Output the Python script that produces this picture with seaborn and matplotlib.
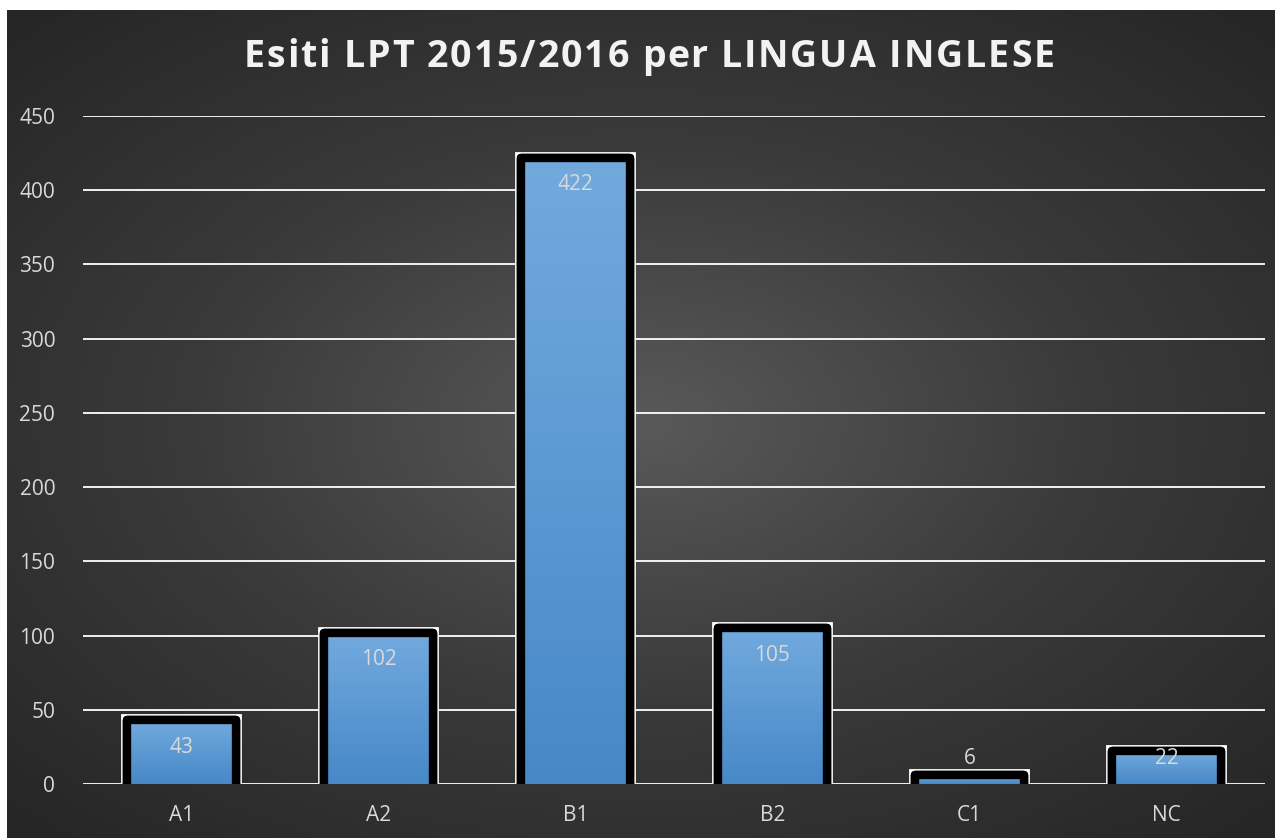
import matplotlib
matplotlib.use("Agg")
import matplotlib.pyplot as plt
import matplotlib.patheffects as pe
from matplotlib.font_manager import FontProperties
import numpy as np
import pandas as pd
import seaborn as sns

levels = ["A1", "A2", "B1", "B2", "C1", "NC"]
counts = [43, 102, 422, 105, 6, 22]
title = "Esiti LPT 2015/2016 per LINGUA INGLESE"

df = pd.DataFrame({"livello": levels, "esiti": counts})

sns.set_theme(style="white")
plt.rcParams["font.family"] = ["Open Sans", "DejaVu Sans"]

fig = plt.figure(figsize=(12.8, 8.38), dpi=100)
fig.patch.set_facecolor("white")

# radial gradient background
bg = fig.add_axes([7 / 1280, 0, 1268 / 1280, 828 / 838])
yy, xx = np.mgrid[-1:1:400j, -1:1:600j]
r = np.sqrt((xx * 0.95) ** 2 + (yy * 1.0) ** 2)
r = np.clip(r / 1.35, 0, 1)
bg.imshow(r, cmap=sns.blend_palette(["#595959", "#3a3a3a", "#262626"], as_cmap=True),
          aspect="auto", extent=[0, 1, 0, 1], interpolation="bicubic")
bg.set_axis_off()

ax = fig.add_axes([83 / 1280, 54 / 838, 1182 / 1280, 668 / 838])
ax.set_facecolor("none")

# base bars: white outer frame + black rounded border + blue fill
sns.barplot(data=df, x="livello", y="esiti", ax=ax, color="#5b9bd5",
            width=0.55, saturation=1, edgecolor="black", linewidth=6, zorder=3)
base = list(ax.patches)
# second pass: only the black border, drawn above the gradient fill
sns.barplot(data=df, x="livello", y="esiti", ax=ax, color="#5b9bd5",
            width=0.55, saturation=1, edgecolor="black", linewidth=6, zorder=5)
top = [p for p in ax.patches if p not in base]

blue = sns.blend_palette(["#4788c8", "#72aade"], as_cmap=True)
grad = np.linspace(0, 1, 256).reshape(-1, 1)
for b, t in zip(base, top):
    h = b.get_height()
    # push the bottom edge below the axis so no border shows at 0
    for p in (b, t):
        p.set_y(-15)
        p.set_height(h + 15)
        p.set_joinstyle("round")
    b.set_path_effects([pe.Stroke(linewidth=8.5, foreground="white", joinstyle="miter"),
                        pe.Stroke(linewidth=6, foreground="black", joinstyle="round"),
                        pe.Normal()])
    t.set_facecolor("none")
    x0, w = b.get_x(), b.get_width()
    im = ax.imshow(grad, cmap=blue, origin="lower", aspect="auto",
                   extent=[x0, x0 + w, 0, h], zorder=4, interpolation="bilinear")
    im.set_clip_path(b)

for i, v in enumerate(counts):
    ax.text(i, max(v - 18.2, 17.5), str(v), ha="center", va="center",
            color="#d9d9d9", fontsize=15, zorder=6)

ax.set_ylim(0, 450)
ax.set_xlim(-0.5, 5.5)
ax.set_yticks(range(0, 451, 50))
ax.yaxis.grid(True, color="white", linewidth=1.3, zorder=0)
ax.set_axisbelow(True)
for s in ax.spines.values():
    s.set_visible(False)
ax.tick_params(axis="both", length=0, colors="#d9d9d9", labelsize=15)
ax.tick_params(axis="y", pad=20)
ax.tick_params(axis="x", pad=15)
ax.set_xlabel("")
ax.set_ylabel("")

# title with letter spacing, placed character by character
fig.canvas.draw()
renderer = fig.canvas.get_renderer()
prop = FontProperties(family=["Open Sans", "DejaVu Sans"], weight="bold", size=27)


def text_width(s):
    w, _, _ = renderer.get_text_width_height_descent(s, prop, ismath=False)
    return w


adv = [text_width("x" + c + "x") - text_width("xx") for c in title]
spacing = 1.9
total = sum(adv) + spacing * (len(title) - 1)
x = 649 - total / 2
for c, a in zip(title, adv):
    if c != " ":
        fig.text(x / 1280, 0.932, c, ha="left", va="center", color="#f2f2f2",
                 fontproperties=prop)
    x += a + spacing

fig.savefig("out.png", dpi=100)
